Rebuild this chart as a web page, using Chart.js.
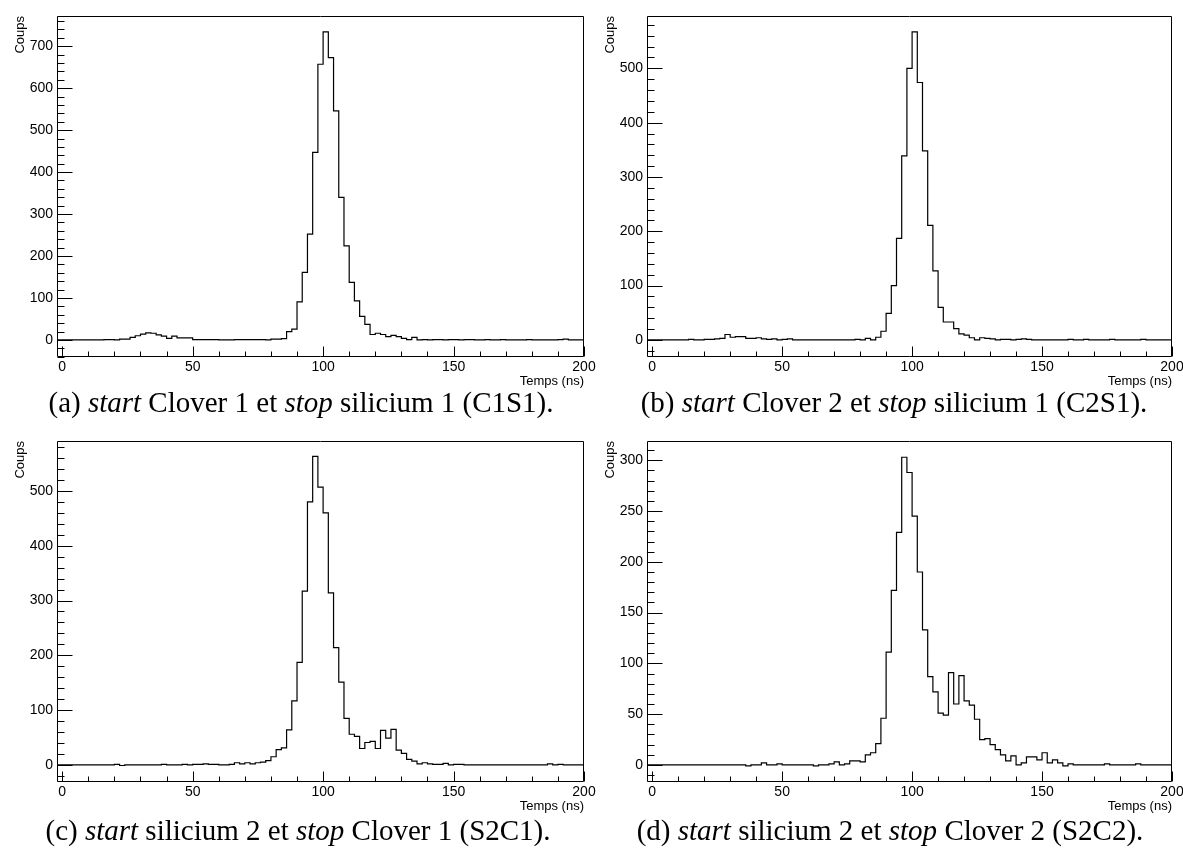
<!DOCTYPE html>
<html>
<head>
<meta charset="utf-8">
<script src="https://cdn.jsdelivr.net/npm/chart.js@4.4.1/dist/chart.umd.min.js"></script>
<style>
  html, body { margin: 0; padding: 0; background: #fff; }
  body { width: 1183px; height: 859px; position: relative; overflow: hidden; }
  .panel { position: absolute; }
  .cap { position: absolute; font-family: "Liberation Serif", "Times New Roman", serif; font-size: 29px; line-height: 32px; color: #000; white-space: nowrap; text-align: center; width: 640px; }
</style>
</head>
<body>
<div class="panel" style="left:0px;top:0px;"><canvas id="cA" width="600" height="392"></canvas></div>
<div class="panel" style="left:590px;top:0px;"><canvas id="cB" width="593" height="392"></canvas></div>
<div class="panel" style="left:0px;top:425px;"><canvas id="cC" width="600" height="392"></canvas></div>
<div class="panel" style="left:590px;top:425px;"><canvas id="cD" width="593" height="392"></canvas></div>

<div class="cap" style="left:-19px;top:386px;">(a) <i>start</i> Clover 1 et <i>stop</i> silicium 1 (C1S1).</div>
<div class="cap" style="left:574px;top:386px;">(b) <i>start</i> Clover 2 et <i>stop</i> silicium 1 (C2S1).</div>
<div class="cap" style="left:-22px;top:814px;">(c) <i>start</i> silicium 2 et <i>stop</i> Clover 1 (S2C1).</div>
<div class="cap" style="left:570px;top:814px;">(d) <i>start</i> silicium 2 et <i>stop</i> Clover 2 (S2C2).</div>

<script>
// ---- Data (2 ns bins from -2 to 200 ns) ----
const binEdges = [-2,0,2,4,6,8,10,12,14,16,18,20,22,24,26,28,30,32,34,36,38,40,42,44,46,48,50,52,54,56,58,60,62,64,66,68,70,72,74,76,78,80,82,84,86,88,90,92,94,96,98,100,102,104,106,108,110,112,114,116,118,120,122,124,126,128,130,132,134,136,138,140,142,144,146,148,150,152,154,156,158,160,162,164,166,168,170,172,174,176,178,180,182,184,186,188,190,192,194,196,198,200];

const countsC1S1 = [
  0,0,0,0,0,0,0,0,0,1,
  1,0,2,2,6,10,14,17,16,12,
  9,4,9,5,5,5,1,1,1,1,
  1,0,0,0,1,1,1,1,1,1,
  0,2,2,3,20,26,91,161,252,447,
  657,734,673,546,340,224,137,93,56,37,
  13,16,13,8,11,8,4,1,6,0,
  1,0,1,1,0,1,1,0,1,1,
  0,0,1,0,0,1,0,0,0,0,
  1,0,0,0,0,0,1,2,0,0,
  0];

const countsC2S1 = [
  0,0,0,0,0,0,0,0,1,0,
  0,1,1,2,3,10,5,6,6,3,
  3,4,2,1,2,0,1,2,0,0,
  0,0,0,0,0,0,0,0,0,0,
  1,0,3,0,5,16,49,100,187,339,
  500,567,474,348,211,127,60,33,33,21,
  11,9,4,0,4,3,2,0,1,1,
  0,1,2,1,0,0,0,0,0,0,
  0,1,0,0,1,0,0,0,0,1,
  0,0,0,0,0,1,0,0,0,0,
  0];

const countsS2C1 = [
  0,0,0,0,0,0,0,0,0,0,
  0,1,-1,0,0,0,0,0,0,0,
  1,0,0,0,1,0,1,1,2,1,
  1,0,0,1,4,2,4,2,4,5,
  8,15,28,31,64,117,187,317,480,563,
  507,460,314,214,151,85,56,52,30,41,
  43,30,63,49,65,27,21,10,7,2,
  4,2,1,1,3,0,1,1,0,0,
  0,0,0,0,0,0,0,0,0,0,
  0,0,0,0,2,0,1,0,0,0,
  0];

const countsS2C2 = [
  0,0,0,0,0,0,0,0,0,0,
  0,0,0,0,0,0,0,0,0,-1,
  0,0,2,0,0,1,0,0,0,0,
  0,0,-1,0,0,1,3,0,1,4,
  4,3,10,12,21,46,111,172,229,303,
  288,245,190,133,87,72,51,49,91,60,
  88,63,59,45,25,26,20,15,10,4,
  9,0,2,8,8,5,12,2,5,2,
  -1,1,0,0,0,0,0,0,1,0,
  0,0,0,0,1,0,0,0,0,0,
  0];

// ---- Axis ticks ----
const xTickLabels = [0, 50, 100, 150, 200];
const yTicksC1S1 = [0, 100, 200, 300, 400, 500, 600, 700];
const yTicksC2S1 = [0, 100, 200, 300, 400, 500];
const yTicksS2C1 = [0, 100, 200, 300, 400, 500];
const yTicksS2C2 = [0, 50, 100, 150, 200, 250, 300];

const xTitle = 'Temps (ns)';
const yTitle = 'Coups';

// ---- Rendering ----
const rootAxes = {
  id: 'rootAxes',
  afterDatasetsDraw(chart, args, opts) {
    const { ctx, chartArea: a, scales } = chart;
    const x = scales.x, y = scales.y;
    ctx.save();
    ctx.strokeStyle = '#000';
    ctx.lineWidth = 1;
    const L = Math.round(a.left) + 0.5, R = Math.round(a.right) - 0.5;
    const T = Math.round(a.top) + 0.5, B = Math.round(a.bottom) - 0.5;
    ctx.beginPath();
    ctx.rect(L, T, R - L, B - T);
    ctx.stroke();
    ctx.beginPath();
    const xs = opts.xMinor;
    for (let k = Math.ceil(x.min / xs); k * xs <= x.max + 1e-9; k++) {
      const v = k * xs;
      const px = Math.round(x.getPixelForValue(v)) + 0.5;
      const major = opts.xMajor.includes(v);
      ctx.moveTo(px, B);
      ctx.lineTo(px, B - (major ? 10 : 5));
    }
    const ys = opts.yMinor;
    for (let k = Math.ceil(y.min / ys); k * ys <= y.max + 1e-9; k++) {
      const v = k * ys;
      const py = Math.round(y.getPixelForValue(v)) + 0.5;
      const major = opts.yMajor.includes(v);
      ctx.moveTo(L, py);
      ctx.lineTo(L + (major ? 15 : 7), py);
    }
    ctx.stroke();
    ctx.restore();
  }
};

function makeHist(id, counts, yMin, yMax, yTicks, yMinor, canvasW, rightEdge) {
  const pts = counts.map((v, i) => ({ x: binEdges[i], y: v }));
  pts.push({ x: binEdges[binEdges.length - 1], y: counts[counts.length - 1] });
  const font = { family: '"Liberation Sans", Arial, sans-serif', size: 14 };
  return new Chart(document.getElementById(id), {
    type: 'line',
    data: {
      datasets: [{
        data: pts,
        stepped: 'before',
        borderColor: '#000',
        borderWidth: 1.2,
        pointRadius: 0,
        fill: false,
        tension: 0
      }]
    },
    options: {
      responsive: false,
      animation: false,
      devicePixelRatio: 1,
      layout: { padding: { left: 0, top: 16, right: canvasW - rightEdge, bottom: 0 } },
      plugins: {
        legend: { display: false },
        tooltip: { enabled: false },
        rootAxes: { xMajor: xTickLabels, xMinor: 10, yMajor: yTicks, yMinor: yMinor }
      },
      scales: {
        x: {
          type: 'linear',
          min: binEdges[0],
          max: binEdges[binEdges.length - 1],
          afterBuildTicks: s => { s.ticks = xTickLabels.map(v => ({ value: v })); },
          afterFit: s => { s.height = 35; s.paddingLeft = 0; s.paddingRight = 0; },
          grid: { display: false, drawTicks: false },
          border: { display: false },
          ticks: { color: '#000', font: font, padding: 2, maxRotation: 0, autoSkip: false },
          title: { display: true, text: xTitle, align: 'end', color: '#000',
                   font: { family: '"Liberation Sans", Arial, sans-serif', size: 13 },
                   padding: { top: 0, bottom: 3 } }
        },
        y: {
          type: 'linear',
          min: yMin,
          max: yMax,
          afterBuildTicks: s => { s.ticks = yTicks.map(v => ({ value: v })); },
          afterFit: s => { s.width = 57; s.paddingTop = 0; s.paddingBottom = 0; },
          grid: { display: false, drawTicks: false },
          border: { display: false },
          ticks: { color: '#000', font: font, padding: 4, autoSkip: false },
          title: { display: true, text: yTitle, align: 'end', color: '#000',
                   font: { family: '"Liberation Sans", Arial, sans-serif', size: 13 },
                   padding: { top: 13, bottom: 0 } }
        }
      }
    },
    plugins: [rootAxes]
  });
}

makeHist('cA', countsC1S1, -40.6, 772, yTicksC1S1, 20, 600, 584);
makeHist('cB', countsC2S1, -31.4, 596.4, yTicksC2S1, 20, 593, 582);
makeHist('cC', countsS2C1, -31.1, 591, yTicksS2C1, 20, 600, 584);
makeHist('cD', countsS2C2, -16.8, 319, yTicksS2C2, 10, 593, 582);
</script>
</body>
</html>
